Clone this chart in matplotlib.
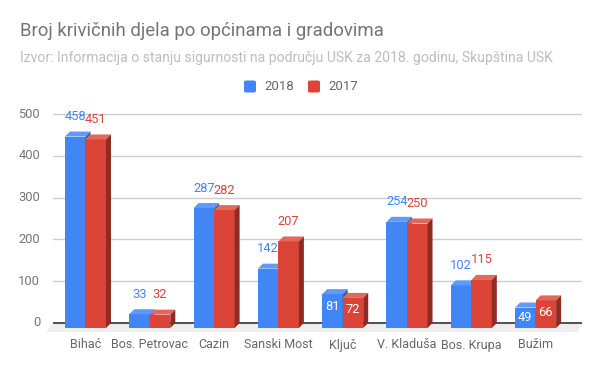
import matplotlib
matplotlib.use("Agg")
import matplotlib.pyplot as plt
from matplotlib.patches import Polygon, Rectangle, FancyBboxPatch

plt.rcParams['font.family'] = ['Roboto', 'DejaVu Sans']

categories = ["Bihać", "Bos. Petrovac", "Cazin", "Sanski Most", "Ključ",
              "V. Kladuša", "Bos. Krupa", "Bužim"]
series_names = ["2018", "2017"]
values_2018 = [458, 33, 287, 142, 81, 254, 102, 49]
values_2017 = [451, 32, 282, 207, 72, 250, 115, 66]
yticks = [0, 100, 200, 300, 400, 500]

# colours: front, top, side
blue = ("#4285F4", "#5f9af6", "#2f61b8")
red = ("#DB4437", "#e2685d", "#8e2b23")
inside_labels = ["Ključ", "Bužim"]

W, H = 600, 371
fig = plt.figure(figsize=(6, 3.71), dpi=100)

# pixel geometry of the plot
px_left, px_right = 53, 582
px_top, px_bot = 105, 340
px_zero, px_500 = 323, 114
uy = 500 / (px_zero - px_500)      # value units per pixel
ux = 1 / 64.3                      # category units per pixel
x0 = (px_left - 90.5) * ux
x1 = (px_right - 90.5) * ux

ax = fig.add_axes([px_left / W, (H - px_bot) / H,
                   (px_right - px_left) / W, (px_bot - px_top) / H])
ax.set_xlim(x0, x1)
ax.set_ylim(-(px_bot - px_zero) * uy, (px_zero - px_top) * uy)
ax.axis("off")

dx = 5 * ux
dy = 5 * uy
bw = 20.5 * ux

# grid and floor
for t in yticks[1:]:
    ax.plot([x0, x1], [t, t], color="#cccccc", lw=1, zorder=1)
ax.add_patch(Polygon([(x0, 0), (x1, 0), (x1 - 4 * ux, -9 * uy), (x0 - 7 * ux, -9 * uy)],
                     closed=True, facecolor="#eeeeee", edgecolor="none",
                     zorder=0, clip_on=False))
ax.plot([x0, x1], [0, 0], color="#333333", lw=1.2, zorder=2)

for t in yticks:
    ax.text(x0 - 13 * ux, t, str(t), ha="right", va="center",
            fontsize=9.3, color="#757575")


def bar3d(xb, v, cols, label, label_col):
    front, top, side = cols
    fx = xb - dx
    ax.add_patch(Rectangle((fx, -dy), bw, v, facecolor=front,
                           edgecolor="none", zorder=5))
    ax.add_patch(Polygon([(fx, v - dy), (xb, v), (xb + bw, v), (fx + bw, v - dy)],
                         closed=True, facecolor=top, edgecolor="none", zorder=5))
    ax.add_patch(Polygon([(fx + bw, v - dy), (xb + bw, v), (xb + bw, 0), (fx + bw, -dy)],
                         closed=True, facecolor=side, edgecolor="none", zorder=5))
    cx = fx + bw / 2
    if label:
        front_top = v - dy
        mid = v / 2 - dy
        ty = max(front_top - 12 * uy, mid)
        ax.text(cx, ty, str(v), ha="center", va="center", fontsize=9.3,
                color="white", zorder=6)
    else:
        ax.text(cx, v + 15 * uy, str(v), ha="center", va="center",
                fontsize=9.3, color=label_col, zorder=6)


for i, cat in enumerate(categories):
    inside = cat in inside_labels
    bar3d(i - bw, values_2018[i], blue, inside, blue[0])
    bar3d(i, values_2017[i], red, inside, red[0])
    ax.text(i - dx, -22 * uy, cat, ha="center", va="center",
            fontsize=9, color="#666666")

# titles
fig.text(20 / W, 1 - 31 / H, "Broj krivičnih djela po općinama i gradovima",
         ha="left", va="center", fontsize=13.4, color="#757575")
fig.text(20 / W, 1 - 58 / H,
         "Izvor: Informacija o stanju sigurnosti na području USK za 2018. godinu, Skupština USK",
         ha="left", va="center", fontsize=10.05, color="#bdbdbd")

# legend
for name, col, lx in [(series_names[0], blue[0], 244), (series_names[1], red[0], 308)]:
    fig.patches.append(FancyBboxPatch((lx / W, 1 - 92.5 / H), 12 / W, 12 / H,
                                      boxstyle="round,pad=0,rounding_size=0.004",
                                      transform=fig.transFigure, facecolor=col,
                                      edgecolor="none"))
    fig.text((lx + 20) / W, 1 - 86.5 / H, name, ha="left", va="center",
             fontsize=9.5, color="#666666")

fig.savefig("out.png", dpi=100)
